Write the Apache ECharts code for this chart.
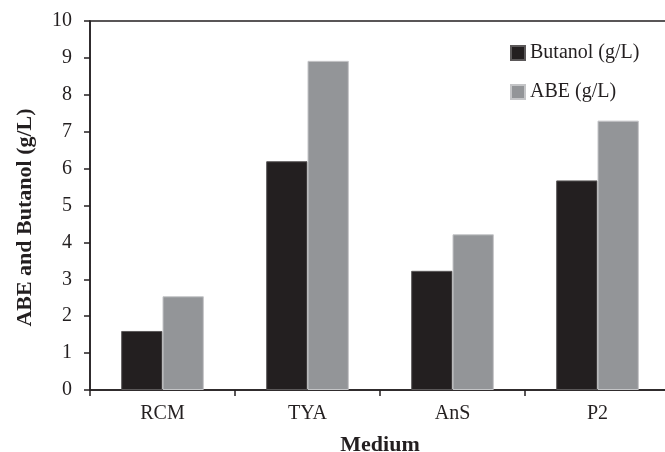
<!DOCTYPE html>
<html>
<head>
<meta charset="utf-8">
<script src="https://cdn.jsdelivr.net/npm/echarts@6/dist/echarts.min.js"></script>
<style>
  html, body { margin: 0; padding: 0; background: #ffffff; }
  #chart { width: 665px; height: 452px; }
</style>
</head>
<body>
<div id="chart"></div>
<script>
// Solvent production per growth medium
const categories = ['RCM', 'TYA', 'AnS', 'P2'];
const butanol = [1.6, 6.2, 3.23, 5.68];
const abe = [2.54, 8.92, 4.22, 7.3];
const seriesNames = ['Butanol (g/L)', 'ABE (g/L)'];
const yTicks = [0, 1, 2, 3, 4, 5, 6, 7, 8, 9, 10];

const ink = '#231f20';
const serif = '"Liberation Serif", "Times New Roman", serif';

const chart = echarts.init(document.getElementById('chart'), null, { renderer: 'canvas' });

chart.setOption({
  backgroundColor: '#ffffff',
  animation: false,
  // plot area runs slightly past the right edge of the canvas
  grid: {
    left: 90, top: 21, width: 580, height: 369,
    outerBoundsMode: 'none',
    containLabel: false,
    show: true, borderColor: ink, borderWidth: 1.5, backgroundColor: 'transparent'
  },
  legend: {
    orient: 'vertical',
    left: 505, top: 38,
    itemWidth: 14, itemHeight: 14, itemGap: 19,
    icon: 'rect',
    textStyle: { fontFamily: serif, fontSize: 20, color: ink, lineHeight: 20 },
    data: seriesNames
  },
  xAxis: {
    type: 'category',
    data: categories,
    axisLine: { lineStyle: { color: ink, width: 1.5 } },
    axisTick: { show: true, length: 6, lineStyle: { color: ink, width: 1.5 } },
    axisLabel: { fontFamily: serif, fontSize: 20, color: ink, margin: 14 },
    name: 'Medium',
    nameLocation: 'middle',
    nameGap: 44,
    nameTextStyle: { fontFamily: serif, fontSize: 22, fontWeight: 'bold', color: ink }
  },
  yAxis: {
    type: 'value',
    min: yTicks[0], max: yTicks[yTicks.length - 1], interval: 1,
    axisLine: { show: true, lineStyle: { color: ink, width: 1.5 } },
    axisTick: { show: true, length: 6, lineStyle: { color: ink, width: 1.5 } },
    splitLine: { show: false },
    axisLabel: { fontFamily: serif, fontSize: 20, color: ink, margin: 18 },
    name: 'ABE and Butanol (g/L)',
    nameLocation: 'middle',
    nameGap: 54,
    nameTextStyle: {
      fontFamily: serif, fontSize: 22, fontWeight: 'bold', color: ink,
      padding: [0, 24, 0, 0]
    }
  },
  series: [
    {
      name: seriesNames[0],
      type: 'bar',
      data: butanol,
      barGap: '0%',
      barCategoryGap: '43%',
      itemStyle: { color: ink, borderColor: '#5b5859', borderWidth: 1 }
    },
    {
      name: seriesNames[1],
      type: 'bar',
      data: abe,
      itemStyle: { color: '#939598', borderColor: '#c4c5c7', borderWidth: 1 }
    }
  ]
});
</script>
</body>
</html>
